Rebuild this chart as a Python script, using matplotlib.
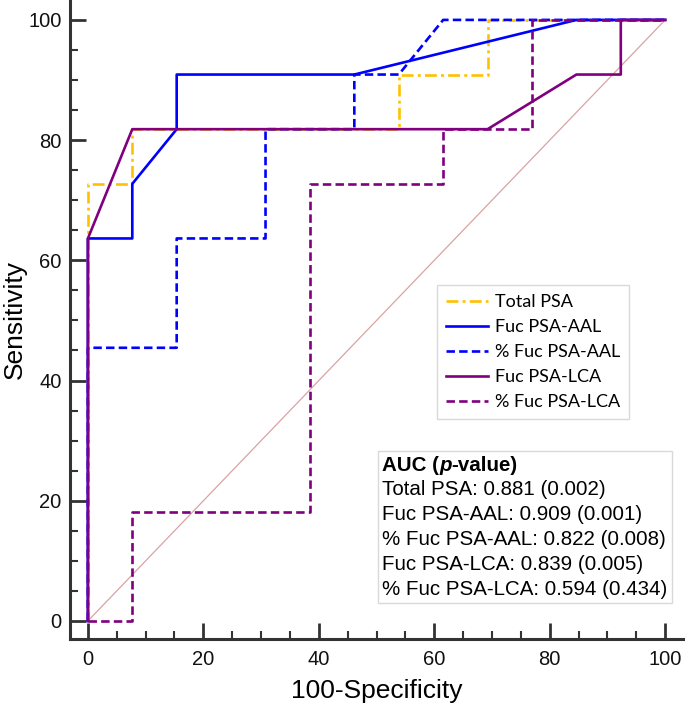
import matplotlib
matplotlib.use("Agg")
import matplotlib.pyplot as plt
from matplotlib.offsetbox import TextArea, HPacker, VPacker, AnchoredOffsetbox

# ---- data ----
total_psa_x = [0, 0, 7.69, 7.69, 53.85, 53.85, 69.23, 69.23, 100]
total_psa_y = [0, 72.73, 72.73, 81.82, 81.82, 90.91, 90.91, 100, 100]

fuc_aal_x = [0, 0, 7.69, 7.69, 15.38, 15.38, 46.15, 84.62, 100]
fuc_aal_y = [0, 63.64, 63.64, 72.73, 81.82, 90.91, 90.91, 100, 100]

pct_aal_x = [0, 0, 15.38, 15.38, 30.77, 30.77, 46.15, 46.15, 53.85, 61.54, 100]
pct_aal_y = [0, 45.45, 45.45, 63.64, 63.64, 81.82, 81.82, 90.91, 90.91, 100, 100]

fuc_lca_x = [0, 0, 7.69, 69.23, 84.62, 92.31, 92.31, 100]
fuc_lca_y = [0, 63.64, 81.82, 81.82, 90.91, 90.91, 100, 100]

pct_lca_x = [0, 7.69, 7.69, 38.46, 38.46, 61.54, 61.54, 76.92, 76.92, 100]
pct_lca_y = [0, 0, 18.18, 18.18, 72.73, 72.73, 81.82, 81.82, 100, 100]

series_labels = ["Total PSA", "Fuc PSA-AAL", "% Fuc PSA-AAL", "Fuc PSA-LCA", "% Fuc PSA-LCA"]
auc_values = ["0.881", "0.909", "0.822", "0.839", "0.594"]
p_values = ["0.002", "0.001", "0.008", "0.005", "0.434"]

x_ticks = [0, 20, 40, 60, 80, 100]
y_ticks = [0, 20, 40, 60, 80, 100]

# ---- figure ----
plt.rcParams['font.family'] = ['Liberation Sans', 'DejaVu Sans']
fig = plt.figure(figsize=(6.85, 7.06), dpi=100)
ax = fig.add_axes([0.1022, 0.0949, 0.895, 0.905])

ax.plot([0, 100], [0, 100], color='#d9a3a3', lw=0.9, zorder=1)

lw = 1.9
ax.plot(total_psa_x, total_psa_y, color='#FFC000', lw=lw, dashes=(4.5, 1.6, 1.1, 1.6),
        label=series_labels[0], zorder=2)
ax.plot(fuc_aal_x, fuc_aal_y, color='#0000FF', lw=lw, label=series_labels[1], zorder=3)
ax.plot(pct_aal_x, pct_aal_y, color='#0000FF', lw=lw, dashes=(3.2, 1.6),
        label=series_labels[2], zorder=4)
ax.plot(fuc_lca_x, fuc_lca_y, color='#800080', lw=lw, label=series_labels[3], zorder=6)
ax.plot(pct_lca_x, pct_lca_y, color='#800080', lw=lw, dashes=(3.2, 1.6),
        label=series_labels[4], zorder=5)

ax.set_xlim(-3.1, 103.1)
ax.set_ylim(-3.0, 103.3)

for s in ['top', 'right']:
    ax.spines[s].set_visible(False)
for s in ['left', 'bottom']:
    ax.spines[s].set_color('#333333')
    ax.spines[s].set_linewidth(2.2)

ax.set_xticks(x_ticks)
ax.set_yticks(y_ticks)
ax.set_xticks(range(0, 101, 5), minor=True)
ax.set_yticks(range(0, 101, 5), minor=True)
ax.tick_params(which='major', direction='in', length=11.5, width=2.0, color='#333333',
               labelsize=14.5, labelcolor='#111111')
ax.tick_params(which='minor', direction='in', length=6, width=1.5, color='#333333')
ax.tick_params(axis='x', which='major', pad=8)
ax.tick_params(axis='y', which='major', pad=6)

ax.set_xlabel("100-Specificity", fontsize=19, labelpad=7)
ax.set_ylabel("Sensitivity", fontsize=19, labelpad=1)

leg = ax.legend(loc='upper left', bbox_to_anchor=(0.599, 0.554), borderaxespad=0,
                frameon=True, fancybox=False, edgecolor='#d9d9d9', framealpha=1,
                prop={'family': 'Lato', 'size': 13}, handlelength=2.3,
                handletextpad=0.4, labelspacing=0.5, borderpad=0.5)
leg.get_frame().set_linewidth(1.0)

# AUC box
fs = 14.8
head = HPacker(children=[
    TextArea("AUC (", textprops=dict(fontsize=fs, fontweight='bold')),
    TextArea("p", textprops=dict(fontsize=fs, fontweight='bold', fontstyle='italic')),
    TextArea("-value)", textprops=dict(fontsize=fs, fontweight='bold')),
], pad=0, sep=0)
rows = [head]
for name, a, p in zip(series_labels, auc_values, p_values):
    rows.append(TextArea(f"{name}: {a} ({p})", textprops=dict(fontsize=fs)))
box = VPacker(children=rows, align='left', pad=0, sep=4.2)
anch = AnchoredOffsetbox(loc='lower right', child=box, pad=0.32, borderpad=0,
                         bbox_to_anchor=(0.982, 0.056), bbox_transform=ax.transAxes,
                         frameon=True)
anch.patch.set_edgecolor('#d9d9d9')
anch.patch.set_linewidth(1.0)
anch.patch.set_boxstyle('square', pad=0)
ax.add_artist(anch)

fig.savefig("out.png", dpi=100)
